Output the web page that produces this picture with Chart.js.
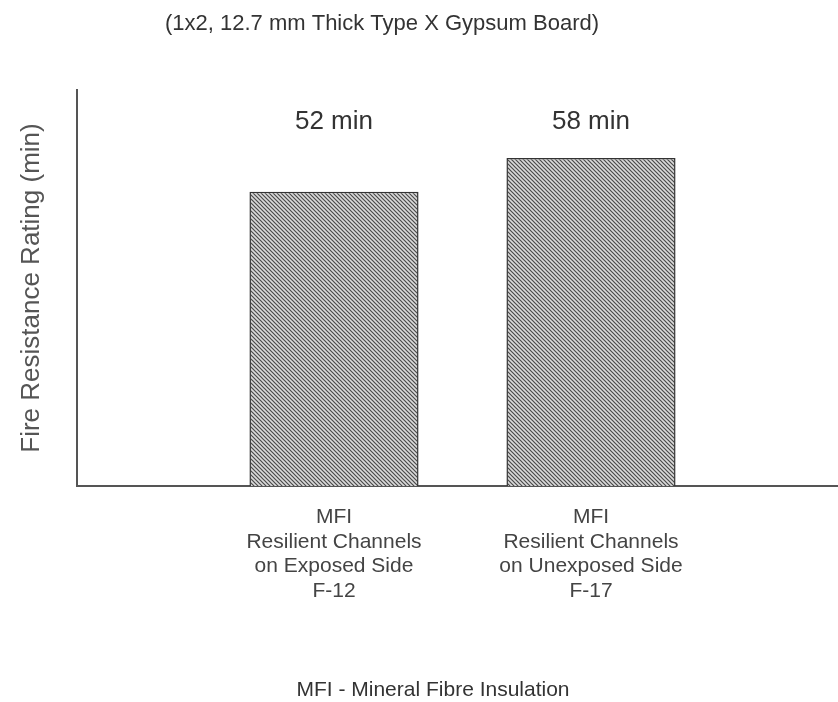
<!DOCTYPE html>
<html><head><meta charset="utf-8">
<script src="https://cdn.jsdelivr.net/npm/chart.js@4/dist/chart.umd.min.js"></script>
<style>html,body{margin:0;padding:0;overflow:hidden;background:#fff;width:838px;height:702px}
#wrap{position:absolute;left:0;top:0;width:870px;height:702px}</style>
</head><body><div id="wrap"><canvas id="c" width="870" height="702"></canvas></div>
<script>
const titleText = '(1x2, 12.7 mm Thick Type X Gypsum Board)';
const yAxisTitle = 'Fire Resistance Rating (min)';
const footnote = 'MFI - Mineral Fibre Insulation';
const categories = ['', ['MFI', 'Resilient Channels', 'on Exposed Side', 'F-12'], ['MFI', 'Resilient Channels', 'on Unexposed Side', 'F-17'], ''];
const ratings = [null, 52, 58, null];
const valueLabels = [null, '52 min', '58 min', null];
const yMin = 0;
const yMax = 70;

const FONT = '"Liberation Sans", Arial, Helvetica, sans-serif';

function hatch() {
  const c = document.createElement('canvas'); c.width = 4; c.height = 4;
  const g = c.getContext('2d');
  g.fillStyle = '#dadada'; g.fillRect(0, 0, 4, 4);
  g.strokeStyle = '#4a4a4a'; g.lineWidth = 1.2;
  g.beginPath();
  g.moveTo(-1, -1); g.lineTo(5, 5);
  g.moveTo(-1, 3); g.lineTo(1, 5);
  g.moveTo(3, -1); g.lineTo(5, 1);
  g.stroke();
  return g.createPattern(c, 'repeat');
}

const textPlugin = {
  id: 'texts',
  afterDraw(chart) {
    const ctx = chart.ctx;
    const xs = chart.scales.x, ca = chart.chartArea;
    ctx.save();
    ctx.textAlign = 'center'; ctx.textBaseline = 'middle';
    // title
    ctx.fillStyle = '#333';
    ctx.font = '22px ' + FONT;
    ctx.fillText(titleText, 382, 24);
    // value labels
    ctx.font = '26px ' + FONT;
    ctx.fillStyle = '#333';
    valueLabels.forEach((t, i) => { if (t) ctx.fillText(t, xs.getPixelForValue(i), ca.top + 32); });
    // footnote
    ctx.font = '21px ' + FONT;
    ctx.fillStyle = '#333';
    ctx.fillText(footnote, 433, 690);
    // y axis title
    ctx.translate(32, (ca.top + ca.bottom) / 2);
    ctx.rotate(-Math.PI / 2);
    ctx.font = '26px ' + FONT;
    ctx.fillStyle = '#555';
    ctx.fillText(yAxisTitle, 0, 0);
    ctx.restore();
  }
};

new Chart(document.getElementById('c'), {
  type: 'bar',
  data: {
    labels: categories,
    datasets: [{
      data: ratings,
      backgroundColor: hatch(),
      borderColor: '#333',
      borderWidth: 1.5,
      borderSkipped: 'bottom',
      categoryPercentage: 1,
      barPercentage: 0.658
    }]
  },
  options: {
    responsive: false,
    animation: false,
    devicePixelRatio: 1,
    layout: { padding: { left: 77, right: 22, top: 90, bottom: 0 } },
    plugins: { legend: { display: false }, tooltip: { enabled: false }, title: { display: false } },
    scales: {
      x: {
        offset: false,
        grid: { display: false, drawTicks: false },
        border: { display: true, color: '#555', width: 2 },
        ticks: { font: { family: FONT, size: 21, lineHeight: 1.17 }, color: '#444', padding: 19, maxRotation: 0, autoSkip: false },
        afterFit: s => { s.height = 216; }
      },
      y: {
        min: yMin, max: yMax,
        grid: { display: false, drawTicks: false },
        border: { display: true, color: '#555', width: 2 },
        ticks: { display: false },
        afterFit: s => { s.width = 0; }
      }
    }
  },
  plugins: [textPlugin]
});
</script></body></html>
